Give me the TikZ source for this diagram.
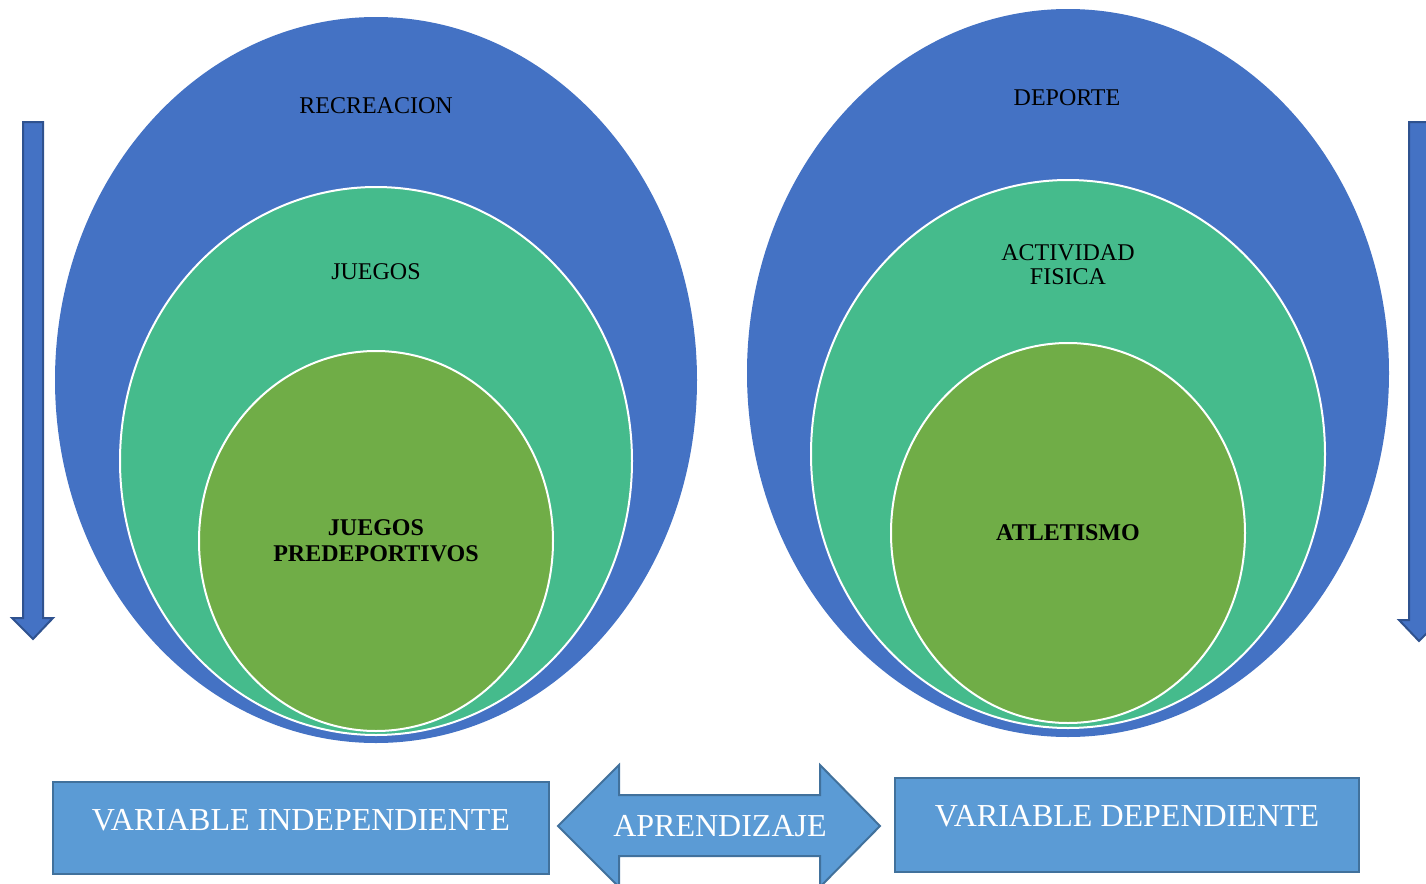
\documentclass[tikz,border=0pt]{standalone}
\usepackage{fontspec}
\setmainfont{Liberation Serif}
\usepackage{tikz}
\definecolor{oblue}{RGB}{68,114,196}
\definecolor{oteal}{RGB}{69,187,140}
\definecolor{ogreen}{RGB}{112,173,71}
\definecolor{lblue}{RGB}{91,155,213}
\definecolor{lframe}{RGB}{65,113,156}
\definecolor{dframe}{RGB}{47,82,143}

\begin{document}
\begin{tikzpicture}[x=0.5pt,y=-0.5pt,
    ring/.style={draw=white,line width=1pt},
    lbl/.style={inner sep=0pt,align=center,font=\fontsize{12}{12}\selectfont},
    boldlbl/.style={lbl,font=\fontsize{12}{13}\selectfont\bfseries},
    varbox/.style={fill=lblue,draw=lframe,line width=1pt},
    biglbl/.style={inner sep=0pt,text=white,font=\fontsize{16}{16}\selectfont},
    downarrow/.style={fill=oblue,draw=dframe,line width=1pt}]
    \clip (0,0) rectangle (1426,884);
    \fill[oblue] (376,380) ellipse [x radius=321,y radius=363];
    \draw[ring,fill=oteal] (376,461) ellipse [x radius=256,y radius=274];
    \draw[ring,fill=ogreen] (376,541) ellipse [x radius=177,y radius=190];
    \node[lbl] (recre) at (376,106) {RECREACION};
    \node[lbl] (juegos) at (376,271.5) {JUEGOS};
    \node[boldlbl] (predep) at (376,540.5) {JUEGOS\\PREDEPORTIVOS};

    \fill[oblue] (1068,373) ellipse [x radius=321,y radius=364];
    \draw[ring,fill=oteal] (1068,454) ellipse [x radius=257,y radius=274];
    \draw[ring,fill=ogreen] (1068,533) ellipse [x radius=177,y radius=190];
    \node[lbl] (deporte) at (1067,98) {DEPORTE};
    \node[lbl] (actfis) at (1068,264.5) {ACTIVIDAD\\FISICA};
    \node[boldlbl] (atlet) at (1068,533) {ATLETISMO};

    \draw[downarrow] (23,122) -- (43,122) -- (43,618) -- (53,618) -- (33,639)
        -- (12,618) -- (23,618) -- cycle;
    \draw[downarrow] (1409,122) -- (1429,122) -- (1429,620) -- (1440,620)
        -- (1419,641) -- (1399,620) -- (1409,620) -- cycle;

    \draw[varbox] (53,782) rectangle (549,874);
    \node[biglbl] (indep) at (301,820) {VARIABLE INDEPENDIENTE};
    \draw[varbox] (895,778) rectangle (1359,872);
    \node[biglbl] (dep) at (1127,816.5) {VARIABLE DEPENDIENTE};

    \draw[varbox] (558,826) -- (619,765) -- (619,795) -- (820,795) -- (820,765)
        -- (880,826) -- (820,887) -- (820,856) -- (619,856) -- (619,887) -- cycle;
    \node[biglbl] (aprend) at (720,826.5) {APRENDIZAJE};
\end{tikzpicture}
\end{document}
